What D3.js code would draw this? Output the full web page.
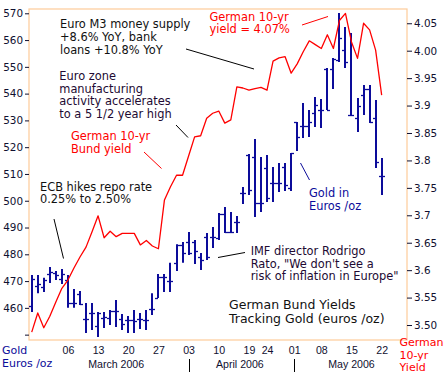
<!DOCTYPE html>
<html><head><meta charset="utf-8">
<script src="https://cdn.jsdelivr.net/npm/d3@7"></script>
<style>
html,body{margin:0;padding:0;background:#fff;}
svg{display:block;}
text{font-family:"DejaVu Sans",Verdana,sans-serif;}
</style></head>
<body>
<svg id="chart" width="448" height="381"></svg>
<script>
// ---------- DATA ----------
const dates = ["2006-02-24","2006-02-27","2006-02-28","2006-03-01","2006-03-02","2006-03-03",
"2006-03-06","2006-03-07","2006-03-08","2006-03-09","2006-03-10",
"2006-03-13","2006-03-14","2006-03-15","2006-03-16","2006-03-17",
"2006-03-20","2006-03-21","2006-03-22","2006-03-23","2006-03-24",
"2006-03-27","2006-03-28","2006-03-29","2006-03-30","2006-03-31",
"2006-04-03","2006-04-04","2006-04-05","2006-04-06","2006-04-07",
"2006-04-10","2006-04-11","2006-04-12","2006-04-13",
"2006-04-18","2006-04-19","2006-04-20","2006-04-21",
"2006-04-24","2006-04-25","2006-04-26","2006-04-27","2006-04-28",
"2006-05-02","2006-05-03","2006-05-04","2006-05-05",
"2006-05-08","2006-05-09","2006-05-10","2006-05-11","2006-05-12",
"2006-05-15","2006-05-16","2006-05-17","2006-05-18","2006-05-19",
"2006-05-22"];

// Gold in euros /oz (bar: open tick left, close tick right)
const goldOpen  = [460.7,468.2,467.8,472.6,473.0,470.8, 470.4,461.8,465.2,455.8,458.1, 453.2,456.2,456.2,458.8,455.8,
 455.5,455.5,455.8,455.5,459.6, 463.7,471.5,470.0,476.8,483.5, 484.6,484.6,479.0,486.5,486.5,
 486.1,495.0,488.3,492.1, 502.9,517.1,516.3,499.2, 512.2,506.6,506.6,512.6,504.8,
 529.4,527.9,527.9,532.8, 533.9,549.2,549.2,552.5,556.3, 532.0,530.9,539.5,541.7,530.9, 509.2];
const goldHigh  = [472.3,472.3,471.2,475.3,473.8,474.5, 472.3,467.0,466.3,461.8,461.8, 458.5,458.5,459.2,462.9,457.7,
 457.0,459.2,458.1,459.2,465.5, 472.6,472.6,476.8,483.8,484.6, 488.3,485.3,480.5,488.0,490.2,
 495.4,497.7,495.8,494.3, 505.1,517.5,523.1,516.3, 517.1,512.6,514.1,514.1,517.8,
 529.4,536.5,533.9,538.7, 538.0,549.6,553.3,570.1,564.9, 562.6,538.4,543.2,543.2,537.6, 516.0];
const goldLow   = [458.5,465.5,465.9,469.3,470.4,468.9, 460.0,460.0,461.1,450.6,451.7, 449.1,452.5,453.6,452.9,451.7,
 450.6,450.6,452.1,451.7,457.3, 463.7,465.9,465.9,473.8,476.8, 479.7,476.4,474.1,477.9,482.4,
 485.3,488.0,488.0,488.0, 498.8,502.1,493.9,495.8, 499.5,499.5,503.3,503.6,503.6,
 518.6,523.4,523.8,527.5, 527.2,533.9,541.7,551.8,549.6, 532.0,525.7,532.0,529.0,512.2, 502.1];
const goldClose = [470.8,468.9,470.4,473.4,472.3,472.6, 461.8,461.8,461.4,455.8,458.1, 458.1,456.6,458.8,458.8,454.0,
 455.5,455.1,455.8,455.5,459.6, 471.5,471.5,470.0,483.5,480.5, 480.5,481.2,477.9,479.0,486.5,
 495.0,488.3,488.3,492.1, 502.9,504.0,499.2,499.2, 501.0,506.6,506.6,505.9,517.8,
 523.8,527.9,529.4,535.8, 533.9,533.9,552.9,560.8,551.8, 532.0,535.4,541.7,529.4,514.5, 509.2];

// German 10-yr Bund yield (%)
const bundYield = [3.487,3.522,3.495,3.516,3.542,3.567, 3.582,3.604,3.624,3.642,3.670,
 3.699,3.659,3.671,3.661,3.667, 3.667,3.667,3.646,3.654,3.644,
 3.639,3.728,3.752,3.773,3.773, 3.808,3.843,3.845,3.877,3.886,
 3.890,3.868,3.874,3.934, 3.932,3.928,3.931,3.933,
 3.928,3.981,3.987,3.989,3.959, 3.976,3.998,4.018,4.011,
 4.004,4.029,4.004,4.055,4.068, 4.016,3.986,4.050,4.038,4.001, 3.919];

const leftTicks = [450,460,470,480,490,500,510,520,530,540,550,560,570];
const leftTickLabels = ["","460","470","480","490","500","510","520","530","540","550","560","570"];
const rightTicks = [3.50,3.55,3.60,3.65,3.70,3.75,3.80,3.85,3.90,3.95,4.00,4.05];
const rightTickLabels = ["3.50","3.55","3.6","3.65","3.7","3.75","3.8","3.85","3.9","3.95","4.00","4.05"];
const xTickDates = ["2006-03-06","2006-03-13","2006-03-20","2006-03-27","2006-04-03","2006-04-10",
 "2006-04-19","2006-04-24","2006-05-01","2006-05-08","2006-05-15","2006-05-22"];
const xTickLabels = ["06","13","20","27","03","10","19","24","01","08","15","22"];
const monthLabels = ["March 2006","April 2006","May 2006"];
const monthLabelDates = ["2006-03-16","2006-04-14","2006-05-15"];
const monthBreakDates = ["2006-04-03","2006-05-01"];

// ---------- CHART ----------
const svg = d3.select("#chart");
const L = 29, R = 407, T = 9, B = 340;
const x = d3.scaleLinear().domain([-0.45, 62.2]).range([L, R]);
const yL = d3.scaleLinear().domain([448, 571.6]).range([B, T]);
const yR = d3.scaleLinear().domain([3.4727, 4.076]).range([B, T]);

// date -> fractional trading-day index (non-trading days fall between neighbours)
function idx(ds){
  const i = dates.indexOf(ds);
  if (i >= 0) return i;
  let j = dates.findIndex(d => d > ds);
  if (j < 0) j = dates.length;
  return j - 0.5;
}

const gold = dates.map((d,i)=>({i, o:goldOpen[i], h:goldHigh[i], l:goldLow[i], c:goldClose[i]}));

const navy = "#0c0c9a", red = "#ff0000", border = "#fdcb99", ink = "#101030", purple = "#220a33";

// frame
svg.append("rect").attr("x",L).attr("y",T).attr("width",R-L).attr("height",B-T)
  .attr("fill","none").attr("stroke",border).attr("stroke-width",1.2);

// left axis
const gLeft = svg.append("g").attr("transform",`translate(${L},0)`)
  .call(d3.axisLeft(yL).tickValues(leftTicks).tickSize(4).tickPadding(2)
    .tickFormat((d,i)=>leftTickLabels[i]));
gLeft.select(".domain").remove();
gLeft.selectAll("line").attr("stroke",ink);
gLeft.selectAll("text").attr("fill",ink).style("font-size","10.4px").style("font-family","'DejaVu Sans',sans-serif");

// right axis
const gRight = svg.append("g").attr("transform",`translate(${R},0)`)
  .call(d3.axisRight(yR).tickValues(rightTicks).tickSize(5).tickPadding(2)
    .tickFormat((d,i)=>rightTickLabels[i]));
gRight.select(".domain").remove();
gRight.selectAll("line").attr("stroke",ink);
gRight.selectAll("text").attr("fill",ink).style("font-size","10.4px").style("font-family","'DejaVu Sans',sans-serif");

// bottom axis labels
const gBot = svg.append("g").attr("transform",`translate(0,${B})`)
  .call(d3.axisBottom(x).tickValues(xTickDates.map(idx)).tickSize(0).tickPadding(6.5)
    .tickFormat((d,i)=>xTickLabels[i]));
gBot.select(".domain").remove();
gBot.selectAll("text").attr("fill",ink).style("font-size","10.6px").style("font-family","'Liberation Sans',Arial,sans-serif");

// month labels & separators
svg.append("g").selectAll("text").data(monthLabels).join("text")
  .attr("x",(d,i)=>x(idx(monthLabelDates[i]))).attr("y",368)
  .attr("text-anchor","middle").attr("fill",ink)
  .style("font-size","10.6px").style("font-family","'Liberation Sans',Arial,sans-serif")
  .text(d=>d);
svg.append("g").selectAll("line").data(monthBreakDates).join("line")
  .attr("x1",d=>Math.round(x(idx(d)))+0.5).attr("x2",d=>Math.round(x(idx(d)))+0.5)
  .attr("y1",359).attr("y2",372).attr("stroke","#000").attr("stroke-width",1);

// gold bars
const gb = svg.append("g").attr("stroke",navy);
gb.selectAll("line.hl").data(gold).join("line").attr("class","hl")
  .attr("x1",d=>Math.round(x(d.i))).attr("x2",d=>Math.round(x(d.i)))
  .attr("y1",d=>yL(d.h)).attr("y2",d=>yL(d.l)).attr("stroke-width",2);
gb.selectAll("line.op").data(gold).join("line").attr("class","op")
  .attr("x1",d=>Math.round(x(d.i))-3).attr("x2",d=>Math.round(x(d.i)))
  .attr("y1",d=>Math.round(yL(d.o))+0.5).attr("y2",d=>Math.round(yL(d.o))+0.5).attr("stroke-width",1.3);
gb.selectAll("line.cl").data(gold).join("line").attr("class","cl")
  .attr("x1",d=>Math.round(x(d.i))).attr("x2",d=>Math.round(x(d.i))+3)
  .attr("y1",d=>Math.round(yL(d.c))+0.5).attr("y2",d=>Math.round(yL(d.c))+0.5).attr("stroke-width",1.3);

// bund yield line
svg.append("path").datum(bundYield)
  .attr("d", d3.line().x((d,i)=>x(i)).y(d=>yR(d)))
  .attr("fill","none").attr("stroke",red).attr("stroke-width",1.3).attr("stroke-linejoin","round");

// ---------- ANNOTATIONS ----------
const notes = [
  {x:60, y:28.3, dy:12.6, fill:"#111", size:11.4, lines:["Euro M3 money supply","+8.6% YoY, bank","loans +10.8% YoY"]},
  {x:59.3, y:80, dy:12.7, fill:purple, size:11.4, lines:["Euro zone","manufacturing","activity accelerates","to a 5 1/2 year high"]},
  {x:71, y:140, dy:12.5, fill:red, size:11.4, lines:["German 10-yr","Bund yield"]},
  {x:209.5, y:20.7, dy:12.6, fill:red, size:11.4, lines:["German 10-yr","yield = 4.07%"]},
  {x:40, y:190.6, dy:12.7, fill:"#111", size:11.4, lines:["ECB hikes repo rate","0.25% to 2.50%"]},
  {x:309, y:197.3, dy:12.7, fill:navy, size:11.4, lines:["Gold in","Euros /oz"]},
  {x:250.7, y:255, dy:12.6, fill:purple, size:11.4, lines:["IMF director Rodrigo","Rato, \"We don't see a","risk of inflation in Europe\""]},
  {x:229, y:309.3, dy:14, fill:"#111", size:12.5, lines:["German Bund Yields","Tracking Gold (euros /oz)"]},
  {x:2, y:353.8, dy:12.7, fill:navy, size:11, lines:["Gold","Euros /oz"]},
  {x:399.5, y:345.8, dy:12.7, fill:red, size:11, lines:["German","10-yr","Yield"]}
];
notes.forEach(n=>{
  const t = svg.append("text").attr("fill",n.fill).style("font-size",n.size+"px");
  n.lines.forEach((s,k)=>t.append("tspan").attr("x",n.x).attr("y",n.y+k*n.dy).text(s));
});

const leaders = [
  {p:[[186,49],[254,69]], c:"#000"},
  {p:[[176,125],[188,137.5]], c:"#000"},
  {p:[[144,152],[161.5,168.5]], c:red},
  {p:[[302,25],[328,16.5]], c:red},
  {p:[[54,219],[63.5,258.5]], c:"#000"},
  {p:[[300.5,163],[309.5,180]], c:navy},
  {p:[[218,257.5],[245,252.5]], c:"#000"}
];
svg.append("g").selectAll("line").data(leaders).join("line")
  .attr("x1",d=>d.p[0][0]).attr("y1",d=>d.p[0][1]).attr("x2",d=>d.p[1][0]).attr("y2",d=>d.p[1][1])
  .attr("stroke",d=>d.c).attr("stroke-width",1);
</script>
</body></html>
